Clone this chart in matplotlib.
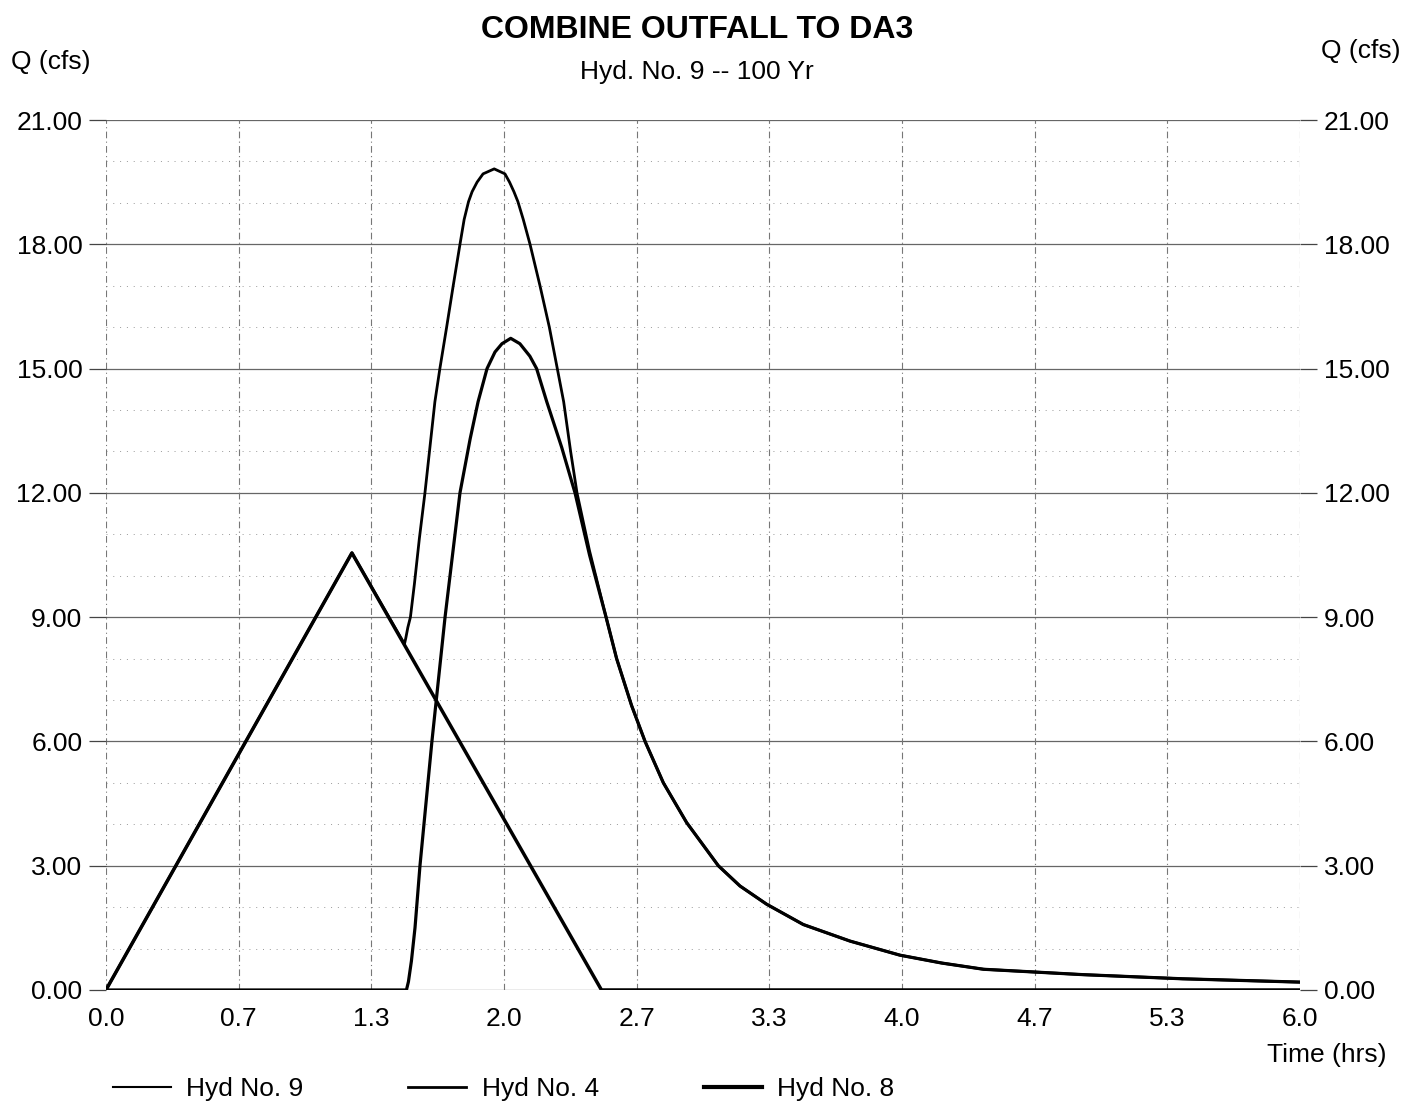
import numpy as np
import matplotlib
matplotlib.use("Agg")
import matplotlib.pyplot as plt

hyd9_t = [0.0, 1.236, 1.50, 1.507, 1.517, 1.53, 1.55, 1.575, 1.603, 1.653, 1.678,
          1.712, 1.745, 1.779, 1.80, 1.822, 1.84, 1.865, 1.895, 1.951, 2.005,
          2.028, 2.05, 2.07, 2.097, 2.131, 2.181, 2.228, 2.268, 2.30, 2.335,
          2.367, 2.43, 2.513, 2.566, 2.641, 2.709, 2.801, 2.918, 3.077, 3.186,
          3.320, 3.504, 3.739, 3.99, 4.20, 4.41, 4.91, 5.41, 6.0]
hyd9_q = [0.0, 10.55, 8.35, 8.5, 8.75, 9.0, 9.8, 10.9, 12.0, 14.2, 15.0,
          16.0, 17.0, 18.0, 18.6, 19.03, 19.27, 19.5, 19.7, 19.82, 19.7,
          19.5, 19.27, 19.03, 18.6, 18.0, 17.0, 16.0, 15.0, 14.2, 13.0,
          12.0, 10.6, 9.0, 8.0, 6.87, 6.0, 5.0, 4.04, 3.0, 2.51,
          2.07, 1.58, 1.18, 0.84, 0.65, 0.5, 0.37, 0.27, 0.19]

hyd4_t = [0.0, 1.51, 1.52, 1.535, 1.553, 1.578, 1.638, 1.704, 1.779, 1.83, 1.87,
          1.915, 1.955, 1.99, 2.034, 2.08, 2.13, 2.164, 2.215, 2.29, 2.357, 2.43,
          2.513, 2.566, 2.641, 2.709, 2.801, 2.918, 3.077, 3.186, 3.320, 3.504,
          3.739, 3.99, 4.20, 4.41, 4.91, 5.41, 6.0]
hyd4_q = [0.0, 0.0, 0.2, 0.7, 1.5, 3.0, 6.0, 9.0, 12.0, 13.3, 14.2,
          15.0, 15.4, 15.6, 15.73, 15.6, 15.3, 15.0, 14.2, 13.1, 12.0, 10.5,
          9.0, 8.0, 6.87, 6.0, 5.0, 4.04, 3.0, 2.51, 2.07, 1.58,
          1.18, 0.84, 0.65, 0.5, 0.37, 0.27, 0.19]

hyd8_t = [0.0, 1.236, 2.49, 6.0]
hyd8_q = [0.0, 10.55, 0.0, 0.0]

x_ticklabels = ["0.0", "0.7", "1.3", "2.0", "2.7", "3.3", "4.0", "4.7", "5.3", "6.0"]
y_ticklabels = ["0.00", "3.00", "6.00", "9.00", "12.00", "15.00", "18.00", "21.00"]

# ── FIGURE ─────────────────────────────────────────────────
plt.rcParams["font.family"] = ["Liberation Sans", "DejaVu Sans"]

fig = plt.figure(figsize=(14.2, 11.06), dpi=100)
ax = fig.add_axes([0.0746, 0.1049, 0.8409, 0.7866])

xt = [i * 2 / 3 for i in range(len(x_ticklabels))]
yt = [i * 3 for i in range(len(y_ticklabels))]

ax.set_xlim(0, 6)
ax.set_ylim(0, 21)

# grid
for y in range(0, 22):
    if y % 3 == 0:
        ax.axhline(y, color="#666666", lw=0.9, zorder=1)
    else:
        ax.axhline(y, color="#999999", lw=0.7, ls=(0, (1, 6)), zorder=1)
for x in xt:
    ax.axvline(x, color="#777777", lw=0.8, ls=(0, (6, 3, 1, 3)), zorder=1)

ax.plot(hyd9_t, hyd9_q, color="black", lw=2.0, zorder=3, label="Hyd No. 9")
ax.plot(hyd4_t, hyd4_q, color="black", lw=2.3, zorder=3, label="Hyd No. 4")
ax.plot(hyd8_t, hyd8_q, color="black", lw=2.5, zorder=3, label="Hyd No. 8")

for s in ax.spines.values():
    s.set_visible(False)

ax.set_xticks(xt)
ax.set_xticklabels(x_ticklabels, fontsize=19)
ax.set_yticks(yt)
ax.set_yticklabels(y_ticklabels, fontsize=19)
ax.tick_params(axis="x", length=0, pad=12)
ax.tick_params(axis="y", length=12, width=0.9, color="#444444", pad=5,
               labelright=True, right=True)

# titles / labels
fig.text(0.491, 0.973, "COMBINE OUTFALL TO DA3", ha="center", va="center",
         fontsize=23, fontweight="bold")
fig.text(0.491, 0.935, "Hyd. No. 9 -- 100 Yr", ha="center", va="center", fontsize=19)
fig.text(0.036, 0.944, "Q (cfs)", ha="center", va="center", fontsize=19)
fig.text(0.958, 0.954, "Q (cfs)", ha="center", va="center", fontsize=19)
fig.text(0.934, 0.046, "Time (hrs)", ha="center", va="center", fontsize=19)

leg = ax.legend(loc="center left", bbox_to_anchor=(0.0625, 0.0155),
                bbox_transform=fig.transFigure, ncol=3, frameon=False,
                fontsize=19, handlelength=2.2, handletextpad=0.57,
                columnspacing=4.0)
for line, w in zip(leg.get_lines(), [1.5, 2.0, 3.0]):
    line.set_linewidth(w)

plt.savefig("out.png", dpi=100)
